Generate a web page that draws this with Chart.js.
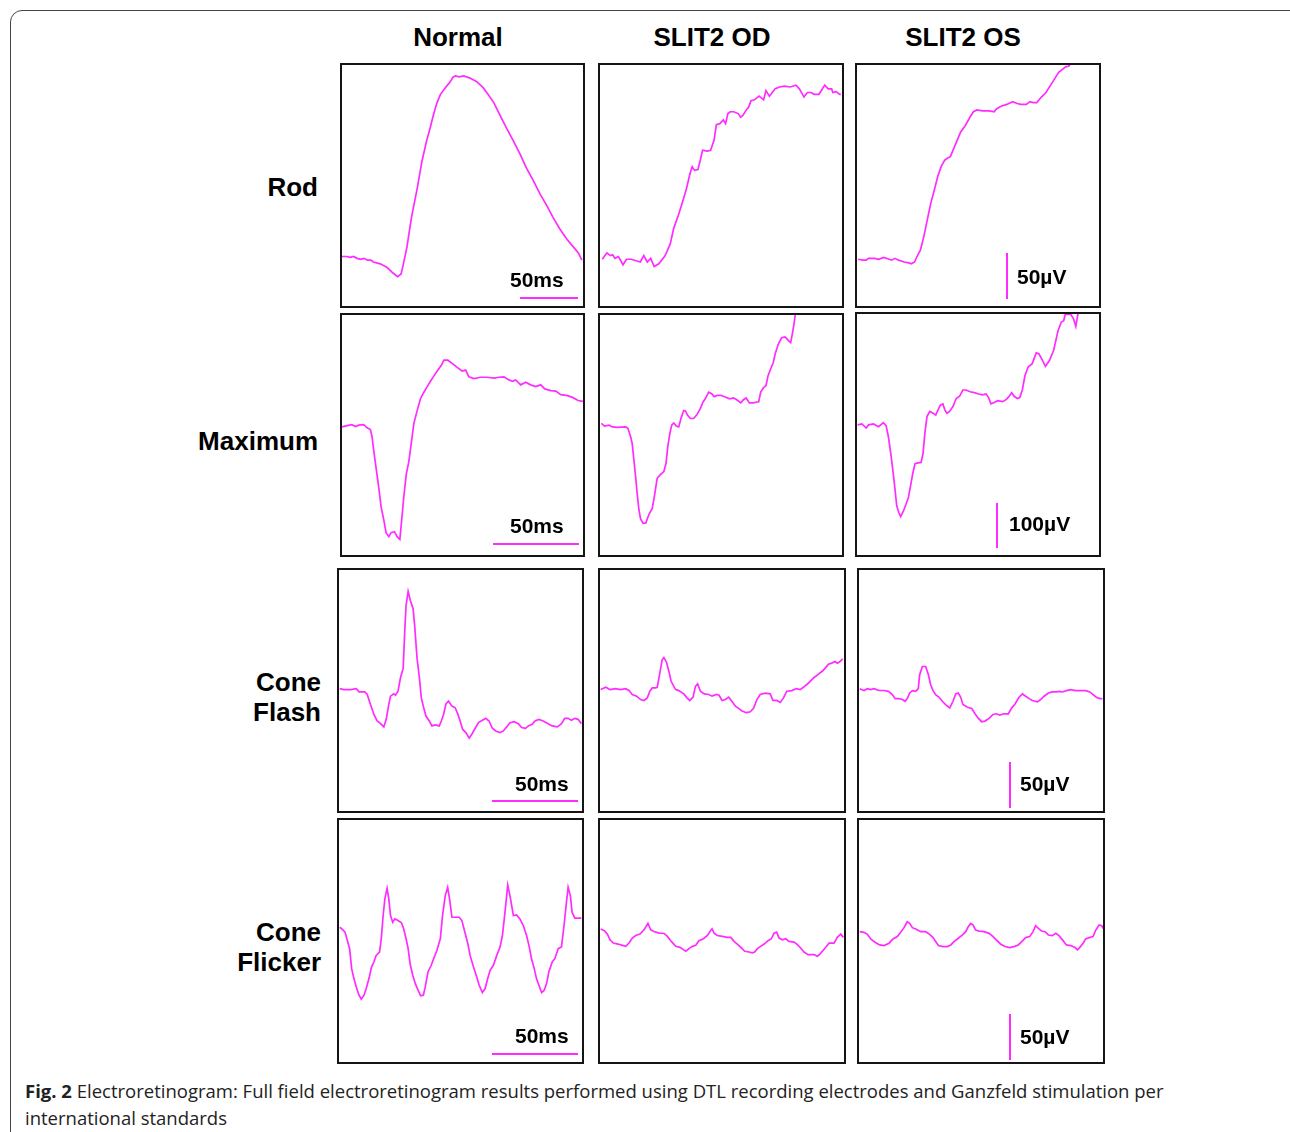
<!DOCTYPE html>
<html>
<head>
<meta charset="utf-8">
<script src="https://cdn.jsdelivr.net/npm/chart.js@4.4.1/dist/chart.umd.min.js"></script>
<style>
  body { margin: 0; background: #fff; }
  #fig { position: relative; width: 1290px; height: 1132px; overflow: hidden; font-family: "Liberation Sans", Arial, sans-serif; }
  .frame { position: absolute; left: 10px; top: 10px; width: 1300px; height: 1200px; border: 1.5px solid #444; border-radius: 12px; box-sizing: border-box; }
  .panel { position: absolute; border: 2px solid #151515; box-sizing: border-box; background: #fff; }
  .panel canvas { display: block; }
  .hdr { position: absolute; width: 200px; text-align: center; font-weight: bold; font-size: 26px; line-height: 28px; color: #000; }
  .row { position: absolute; width: 220px; text-align: right; font-weight: bold; font-size: 26px; line-height: 30px; color: #000; }
  .lbl { position: absolute; font-weight: bold; font-size: 21px; line-height: 24px; color: #000; white-space: nowrap; }
  .hbar { position: absolute; height: 2px; background: #ff2cff; }
  .vbar { position: absolute; width: 2px; background: #ff2cff; }
  .cap { position: absolute; left: 25px; top: 1077px; font-family: "Open Sans", sans-serif; font-size: 18.5px; line-height: 27px; color: #222; white-space: nowrap; }
</style>
</head>
<body>
<div id="fig">
  <div class="frame"></div>
  <div class="hdr" style="left:358px;top:23px">Normal</div>
  <div class="hdr" style="left:612px;top:23px">SLIT2 OD</div>
  <div class="hdr" style="left:863px;top:23px">SLIT2 OS</div>

  <div class="row" style="left:98px;top:172px">Rod</div>
  <div class="row" style="left:98px;top:426px">Maximum</div>
  <div class="row" style="left:101px;top:667px">Cone<br>Flash</div>
  <div class="row" style="left:101px;top:917px">Cone<br>Flicker</div>

  <div class="cap"><b>Fig. 2</b> Electroretinogram: Full field electroretinogram results performed using DTL recording electrodes and Ganzfeld stimulation per<br>international standards</div>
</div>

<script>
// ERG traces, [time ms, amplitude µV]
const rodNormal = [[0,0],[4,0],[7,-1],[10,0],[13,-2],[16,-3],[19,-2],[22,-4],[25,-4],[27,-6],[33,-8],[39,-12],[44,-18],[48,-22],[51,-19],[53,-8],[56,10],[60,43],[65,75],[69,104],[73,126],[76,140],[79,155],[82,168],[85,177],[89,184],[93,190],[96,196],[98,197],[101,196],[105,197],[110,195],[116,191],[122,184],[126,177],[131,168],[136,155],[142,140],[148,126],[154,111],[159,97],[165,83],[171,68],[177,55],[182,43],[188,30],[194,19],[200,10],[204,4],[207,-4]];
const rodOD = [[1,0],[5,7],[8,4],[10,5],[12,1],[15,3],[19,-6],[22,0],[26,0],[34,-3],[37,4],[40,-3],[43,1],[46,-8],[50,-5],[55,3],[57,8],[60,17],[63,34],[67,48],[71,64],[74,77],[77,93],[79,101],[81,97],[84,98],[86,108],[88,119],[92,118],[95,119],[98,130],[100,147],[103,148],[106,152],[108,148],[110,159],[112,161],[115,161],[119,159],[121,155],[123,157],[126,163],[128,166],[130,173],[133,174],[137,178],[141,174],[143,184],[146,178],[151,186],[155,188],[159,189],[164,188],[169,190],[172,186],[176,177],[179,182],[182,182],[185,180],[189,180],[194,190],[197,186],[200,186],[201,182],[204,183],[207,180],[208,180]];
const rodOS = [[0,0],[4,-1],[7,-1],[9,1],[14,1],[18,0],[22,2],[27,0],[29,-1],[32,1],[35,-1],[40,-3],[44,-4],[46,-5],[49,-3],[51,3],[54,10],[57,25],[60,43],[63,61],[66,75],[69,90],[72,101],[75,108],[77,110],[80,112],[83,121],[86,130],[89,139],[93,146],[97,155],[100,161],[103,163],[108,162],[114,162],[118,161],[120,164],[124,167],[129,169],[134,172],[138,170],[141,169],[146,169],[149,172],[152,171],[155,171],[159,177],[163,182],[167,190],[171,198],[174,204],[177,207],[180,210],[183,211],[185,215]];

const maxNormal = [[0,-1],[2.9,2],[5.8,4],[7.8,0],[9.7,3],[12.6,4],[14.6,-3],[16.5,-7],[17.5,-24],[18.4,-53],[20,-98],[21.3,-135],[22.7,-179],[24.3,-209],[25.6,-237],[27.2,-246],[28.5,-237],[30.5,-235],[32,-246],[33.6,-252],[34.5,-216],[35.9,-157],[37.4,-105],[38.8,-79],[40.2,-39],[41.7,6],[43.7,36],[45.6,62],[47.5,76],[49.5,89],[51.4,101],[53.4,113],[55.7,126],[57.6,136],[59.2,148],[61.5,148],[64,141],[66.9,132],[69.8,124],[71.8,126],[73.7,111],[76.6,107],[80.5,110],[84.4,110],[88.3,108],[91.2,110],[94.1,111],[96,106],[98.9,101],[100.9,104],[103.8,93],[106.7,99],[109.6,93],[112.5,89],[115.4,93],[117.8,84],[121.3,80],[124.2,79],[127.1,71],[131,69],[133.9,65],[137.2,58],[139.9,56]];
const maxOD = [[0.4,4],[2.3,-2],[4.9,0],[6.8,-4],[9.7,-5],[14.6,-4],[15.9,-7],[17.5,-26],[18.4,-41],[19.4,-78],[20.4,-115],[21.3,-152],[22.3,-189],[23.3,-210],[24.8,-220],[26.4,-219],[27.5,-207],[28.7,-196],[30.1,-187],[31.4,-159],[33,-119],[34.9,-111],[36.9,-104],[38.2,-85],[39.2,-48],[40.4,-19],[41.5,0],[42.7,5],[44.2,-2],[45.6,-4],[46.9,15],[48.5,33],[49.5,32],[50.8,22],[52.4,15],[54.3,15],[56.3,24],[58.2,37],[59.8,52],[61.1,59],[63.1,74],[65,70],[66.3,64],[68.3,67],[70.2,67],[72.8,63],[75.3,59],[77.6,61],[79.5,57],[81.9,50],[83.4,57],[85,61],[86.9,50],[89.2,50],[91.2,52],[92.3,52],[93.5,74],[95.1,84],[96.6,89],[97.8,111],[99.3,126],[100.9,141],[101.9,159],[103.8,182],[105.7,196],[107.7,198],[109.6,190],[111,185],[112.1,207],[112.9,226],[113.7,248],[114.3,263]];
const maxOS = [[0,0],[2.5,2],[5,-7],[6.4,0],[9.3,2],[12.2,-4],[15.1,5],[16.7,-2],[18,-26],[19.4,-63],[20.6,-100],[21.7,-137],[22.9,-181],[24.1,-196],[25.2,-205],[26.8,-193],[28.3,-178],[29.7,-163],[31,-137],[32.2,-111],[33.6,-87],[35.5,-85],[37.2,-84],[38.4,-63],[39.4,-19],[40.7,19],[42.3,30],[44.2,26],[45.8,22],[47.1,33],[48.5,44],[50,47],[51.2,33],[52.4,26],[53.9,30],[55.9,41],[57.8,59],[59.8,64],[61.7,78],[63.6,78],[66,74],[68.5,72],[71,69],[73.3,67],[75.3,69],[76.8,61],[78.2,47],[80.1,50],[82.1,54],[85,52],[87.3,57],[88.9,64],[90.4,72],[91.8,64],[93.7,59],[95.1,61],[96.6,78],[98.2,111],[100.1,130],[102.4,137],[104.8,161],[106.3,159],[107.9,148],[110.2,131],[112.5,144],[115,167],[117.6,211],[119.5,230],[120.9,233],[121.8,248],[123.4,247],[124.9,248],[126.7,237],[128,220],[129.2,248],[129.8,259]];

const coneNormal = [[0,1],[2.5,0],[6.4,0],[9.7,1],[11.3,-2.5],[14.7,-2.5],[16.1,-5.4],[18,-16.3],[20,-27.2],[21.9,-34.4],[23.9,-37.3],[25.8,-40.9],[27.2,-32.6],[28.7,-16.3],[29.7,-7.2],[31.6,-4.7],[32.6,-6.2],[34.1,-1.8],[35.5,12.7],[37.1,23.5],[38,63.4],[38.8,92.3],[40,107.5],[41.3,97.7],[42.9,88.7],[43.8,70.6],[45.2,34.4],[46.6,12.7],[47.7,-9.1],[49.1,-19.9],[50.4,-29],[52.4,-34.4],[53.9,-39.8],[55.9,-38.7],[58.2,-39.8],[59.4,-34.4],[60.7,-27.2],[62.1,-15.6],[63.6,-12.7],[65.6,-18.1],[67.5,-19.9],[69.1,-27.2],[70.4,-34.4],[71.8,-43.4],[73.7,-47.1],[75.7,-53.2],[77.2,-48.9],[79.2,-42.4],[81.1,-36.2],[83.4,-33.7],[85.4,-31.5],[87.3,-34.4],[89.2,-42.4],[91.2,-45.3],[93.7,-47.1],[95.6,-45.3],[97.6,-40.9],[99.5,-36.2],[102,-35.1],[104.4,-37.3],[106.3,-41.6],[108.6,-42.4],[110.2,-39.8],[112.5,-38],[114.1,-34.4],[116.4,-32.6],[118.9,-34.4],[121.8,-37.3],[124.2,-39.8],[127.3,-40.9],[129.6,-37.3],[131.5,-31.5],[133.5,-31.5],[135.4,-33.7],[137.4,-31.5],[139.3,-32.6],[141.2,-37.3]];
const coneOD = [[0,0],[3,2.5],[5.4,0],[8.7,1],[11.6,0],[14.6,1],[16.5,-1],[18.4,-5.4],[21,-7.2],[23.3,-10.9],[25.2,-11.9],[27.2,-9.1],[28.7,-1.8],[30.1,1.8],[32,1.8],[33,2.5],[34.5,18.1],[35.9,32.6],[36.9,35.1],[38.4,30],[39.8,19.9],[41.1,9.1],[43.7,0],[45.6,-1.1],[48.5,-4.7],[50.4,-9.1],[52,-11.9],[53.9,-8.3],[55.3,3.6],[56.6,6.2],[58.2,-1.8],[60.5,-4.7],[63.1,-5.4],[65,-7.2],[67.5,-5.4],[69.1,-6.2],[70.8,-11.9],[72.8,-10.9],[74.7,-8.3],[76.6,-12.7],[78.6,-18.1],[80.5,-20.6],[82.5,-23.5],[85,-25.3],[87.3,-24.3],[89.2,-20.6],[91.2,-10.9],[93.1,-5.4],[96,-4],[98.9,-4.7],[100.5,-11.9],[102.8,-11.9],[104.8,-14.1],[106.7,-9.1],[108.6,-1.8],[111.6,-1.1],[114.1,1.1],[116.4,0],[118.3,2.5],[121.3,7.2],[124.2,12.7],[127.1,17],[129.6,20.6],[131,23.5],[132.9,27.9],[134.8,29],[136.8,30.8],[138.1,29],[139.7,30.8],[141.2,33.7]];
const coneOS = [[0,0],[2.5,-2],[4.5,0],[6.4,-1],[8.3,0],[11.3,-2],[14.2,-2],[16.7,-3],[19,-6.5],[20.6,-10.9],[22.9,-10.9],[24.8,-11.9],[26.4,-13.8],[27.7,-10.9],[29.1,-4.7],[30.7,-2.2],[32.6,-2.9],[34.1,0],[34.9,15.2],[36.5,24.3],[38.4,24.3],[40,15.2],[41.3,4.3],[42.7,-2.2],[44.2,-6.5],[46.2,-9.4],[48.1,-13.8],[50,-17.4],[52.4,-21],[54.3,-13.8],[55.9,-5.8],[57.4,-4.7],[58.8,-9.4],[60.1,-17.4],[62.7,-20.3],[65.2,-21.7],[67.1,-27.5],[69.1,-32.6],[71,-36.2],[72.9,-35.5],[75.3,-32.6],[77.6,-28.2],[79.5,-27.5],[81.5,-29],[84,-27.5],[86.5,-27.5],[88.5,-21],[90.4,-16.7],[92.7,-9.4],[94.7,-5.8],[96.6,-8.3],[98.6,-10.9],[100.5,-13],[103.4,-14.5],[105.3,-11.9],[107.3,-8.3],[109.8,-4.7],[112.1,-3.6],[114.1,-3.6],[116.4,-2.9],[118,-3.6],[120.3,-2.2],[122.8,-1.1],[125.7,-2.2],[128.6,-2.2],[131.5,-2.2],[133.9,-3.6],[135.8,-6.5],[137.7,-9.4],[139.7,-10.9],[141.2,-10.9]];

const flickerNormal = [[0,1],[1.6,-1.4],[3.1,-4.3],[4.5,-13.4],[5.8,-22.4],[7,-44.2],[8.3,-55],[9.7,-64.1],[11.3,-73.1],[12.6,-77.5],[14.2,-73.1],[15.5,-65.9],[17.1,-55],[18.6,-42.4],[20,-36.9],[21.3,-29.7],[23.3,-26.1],[24.3,-11.6],[25.4,13.8],[26.4,31.9],[27.7,43.4],[28.7,31.9],[29.7,13.8],[31,6.5],[32.2,10.1],[34.1,8.3],[36.1,5.8],[37.4,-0.7],[38.8,-11.6],[40,-22.4],[41.3,-40.5],[42.7,-51.4],[44.2,-60.5],[45.8,-67.7],[47.3,-73.8],[48.9,-73.1],[50,-64.1],[51.6,-47.8],[53.5,-40.5],[54.9,-33.3],[56.8,-24.3],[58.8,-11.6],[60.1,13.8],[61.7,35.5],[63.1,44.5],[64.2,31.9],[65.6,11.9],[67.5,11.9],[69.8,11.9],[71.4,8.3],[72.9,-2.5],[74.9,-17],[76.2,-29.7],[78.2,-42.4],[80.1,-53.2],[81.5,-62.3],[83.4,-70.2],[85,-65.9],[86.5,-55],[87.9,-46],[89.8,-40.5],[91.8,-29.7],[93.7,-20.6],[95.1,-8],[96.6,17.4],[98.2,47.1],[99.5,35.5],[101.5,13.8],[103.4,14.5],[105.3,10.1],[107.3,2.9],[109.2,-8],[110.6,-18.8],[112.1,-33.3],[113.7,-44.2],[115,-55],[116.4,-62.3],[118,-70.2],[119.5,-67.7],[120.9,-60.5],[122.2,-47.8],[124.2,-36.9],[125.7,-33.3],[127.7,-22.4],[129.6,-20.6],[131.1,2.9],[132.5,28.2],[133.5,44.5],[134.8,35.5],[135.8,17.4],[137.4,10.9],[139.3,10.9],[141.2,10.9]];
const flickerOD = [[0,1],[2.3,-1.1],[3.9,-4.7],[5.4,-10.9],[7.4,-14.5],[10.1,-15.6],[12.6,-17],[14.6,-18.1],[16.5,-14.5],[18.4,-9.1],[20.4,-6.2],[22.9,-4.7],[25.2,0],[27.5,7.2],[29.1,0],[31,-1.8],[34,-3.6],[36.9,-4],[38.8,-7.2],[41.1,-12.7],[43.7,-18.1],[46.2,-19.2],[48.1,-21.7],[49.5,-23.5],[51.4,-20.6],[53.4,-18.1],[55.3,-17],[57.2,-11.9],[59.8,-9.8],[62.1,-6.2],[63.6,-1.8],[64.8,1.1],[66,-3.6],[67.9,-6.2],[70.8,-7.2],[73.7,-8.3],[75.7,-8.3],[77.6,-12.7],[79.5,-15.6],[81.9,-19.9],[83.8,-23.5],[86.3,-24.3],[88.3,-25.3],[89.6,-24.3],[91.2,-20.6],[93.1,-18.1],[95.1,-15.6],[97.4,-11.9],[99.3,-9.8],[100.9,-3.6],[102.4,-2.5],[103.8,-9.1],[105.7,-10.9],[107.7,-9.8],[109.6,-12.7],[112.5,-13.4],[114.5,-16.3],[116.4,-19.9],[118.3,-24.3],[120.7,-27.2],[124.2,-27.2],[126.1,-29],[127.7,-26.4],[129,-23.5],[131,-19.2],[132.9,-14.5],[135.8,-14.5],[137.7,-8.3],[139.7,-4.7],[141.2,-8.3]];
const flickerOS = [[0,0.7],[2.5,0],[4.5,-2.2],[6.4,-7.2],[8.9,-10.9],[11.6,-13.8],[14.2,-14.5],[17.1,-11.9],[19.4,-7.2],[21.9,-4.7],[23.9,0],[25.8,5.1],[27.7,11.6],[29.1,9.8],[30.7,5.1],[32.6,3.6],[35.5,0.7],[38.4,0.7],[40.7,-2.2],[42.7,-5.8],[44.2,-10.1],[45.8,-14.5],[48.5,-15.6],[51,-15.6],[53,-13.8],[54.9,-10.1],[57.4,-6.5],[59.8,-2.9],[61.7,0.7],[63.2,6.2],[64.6,9.8],[66,8],[67.5,2.5],[69.5,1.4],[72.4,0.7],[75.3,-1.1],[77.6,-4.7],[79.5,-8.3],[82.1,-13],[84.6,-15.6],[87.3,-16.7],[89.8,-15.6],[92.3,-13.8],[94.3,-10.1],[96.6,-5.8],[98.9,-4.7],[100.9,0.7],[102.4,7.2],[104,4.3],[105.9,1.4],[107.9,0.7],[109.8,-2.9],[112.1,-3.6],[114.1,-1.1],[116,-3.6],[118,-8.3],[120.3,-13.8],[122.8,-14.5],[125.3,-16.7],[126.7,-19.2],[128,-16.7],[130,-11.9],[131.5,-7.2],[133.5,-5.8],[135.8,-4.7],[137.4,2.5],[139.3,8],[140.9,7.2],[141.6,4.3]];

const traceColor = '#ff2cff';

// box: left, top, width, height ; xr / yr: axis range in ms / µV
const panels = [
    { data: rodNormal,     box: [340, 63, 245, 245],  xr: [0, 208],     yr: [-54, 209] },
    { data: rodOD,         box: [598, 63, 246, 245],  xr: [-1, 209],    yr: [-51, 212] },
    { data: rodOS,         box: [855, 63, 246, 245],  xr: [-1, 209],    yr: [-51, 212] },
    { data: maxNormal,     box: [340, 313, 245, 244], xr: [0, 140],     yr: [-287, 249] },
    { data: maxOD,         box: [598, 313, 246, 244], xr: [-0.4, 141],  yr: [-291, 247] },
    { data: maxOS,         box: [855, 312, 246, 245], xr: [-0.4, 141.6], yr: [-291, 248] },
    { data: coneNormal,    box: [337, 568, 247, 245], xr: [-0.4, 141.6], yr: [-133, 131] },
    { data: coneOD,        box: [598, 568, 248, 245], xr: [-0.4, 142],  yr: [-133, 131] },
    { data: coneOS,        box: [857, 568, 248, 245], xr: [-0.4, 141.6], yr: [-134, 130] },
    { data: flickerNormal, box: [337, 818, 247, 246], xr: [-0.4, 141.6], yr: [-146, 118] },
    { data: flickerOD,     box: [598, 818, 248, 246], xr: [-0.4, 141.6], yr: [-145, 120.5] },
    { data: flickerOS,     box: [857, 818, 248, 246], xr: [-0.4, 141.6], yr: [-142, 123] }
];

// scale bars: time bars under the Normal column, voltage bars in the OS column
const timeBars = [
    { text: '50ms', tx: 510, ty: 268, bar: [520, 297, 58] },
    { text: '50ms', tx: 510, ty: 514, bar: [493, 543, 86] },
    { text: '50ms', tx: 515, ty: 772, bar: [492, 800, 86] },
    { text: '50ms', tx: 515, ty: 1024, bar: [492, 1053, 86] }
];
const voltBars = [
    { text: '50µV',  tx: 1017, ty: 265, bar: [1006, 253, 46] },
    { text: '100µV', tx: 1009, ty: 512, bar: [996, 503, 45] },
    { text: '50µV',  tx: 1020, ty: 772, bar: [1009, 762, 46] },
    { text: '50µV',  tx: 1020, ty: 1025, bar: [1009, 1014, 46] }
];

const fig = document.getElementById('fig');

function makePanel(p) {
    const [l, t, w, h] = p.box;
    const div = document.createElement('div');
    div.className = 'panel';
    div.style.left = l + 'px';
    div.style.top = t + 'px';
    div.style.width = w + 'px';
    div.style.height = h + 'px';
    const canvas = document.createElement('canvas');
    canvas.width = w - 4;
    canvas.height = h - 4;
    div.appendChild(canvas);
    fig.appendChild(div);

    new Chart(canvas, {
        type: 'line',
        data: {
            datasets: [{
                data: p.data.map(d => ({ x: d[0], y: d[1] })),
                borderColor: traceColor,
                borderWidth: 1.7,
                pointRadius: 0,
                tension: 0
            }]
        },
        options: {
            responsive: false,
            animation: false,
            layout: { padding: 0 },
            plugins: { legend: { display: false }, tooltip: { enabled: false } },
            scales: {
                x: { type: 'linear', min: p.xr[0], max: p.xr[1], display: false },
                y: { type: 'linear', min: p.yr[0], max: p.yr[1], display: false }
            }
        }
    });
}

panels.forEach(makePanel);

function addLabel(text, x, y) {
    const el = document.createElement('div');
    el.className = 'lbl';
    el.textContent = text;
    el.style.left = x + 'px';
    el.style.top = y + 'px';
    fig.appendChild(el);
}

timeBars.forEach(b => {
    addLabel(b.text, b.tx, b.ty);
    const bar = document.createElement('div');
    bar.className = 'hbar';
    bar.style.left = b.bar[0] + 'px';
    bar.style.top = b.bar[1] + 'px';
    bar.style.width = b.bar[2] + 'px';
    fig.appendChild(bar);
});

voltBars.forEach(b => {
    addLabel(b.text, b.tx, b.ty);
    const bar = document.createElement('div');
    bar.className = 'vbar';
    bar.style.left = b.bar[0] + 'px';
    bar.style.top = b.bar[1] + 'px';
    bar.style.height = b.bar[2] + 'px';
    fig.appendChild(bar);
});
</script>
</body>
</html>
